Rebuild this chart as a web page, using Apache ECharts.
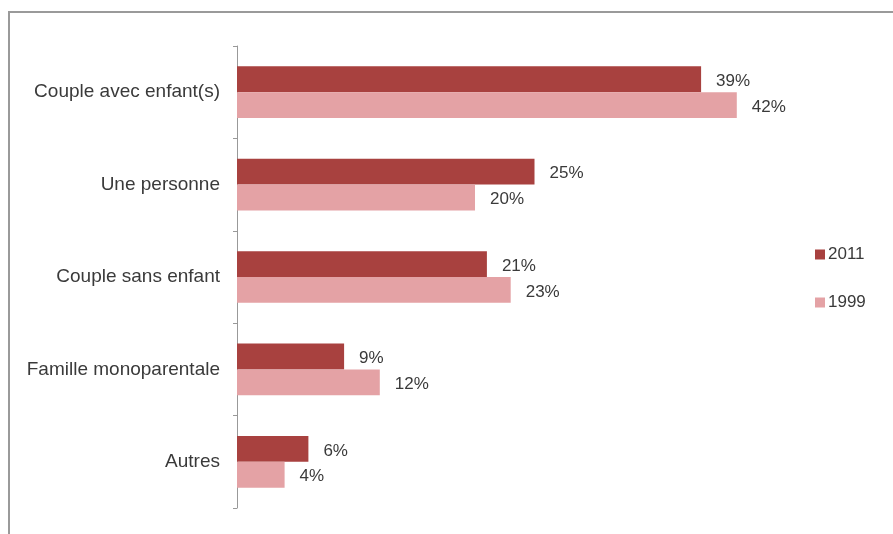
<!DOCTYPE html>
<html><head><meta charset="utf-8">
<script src="https://cdn.jsdelivr.net/npm/echarts@6/dist/echarts.min.js"></script>
<style>html,body{margin:0;padding:0;background:#fff}#c{width:893px;height:534px}</style>
</head><body><div id="c"></div>
<script>
const categories = ["Couple avec enfant(s)", "Une personne", "Couple sans enfant", "Famille monoparentale", "Autres"];
const values2011 = [39, 25, 21, 9, 6];
const values1999 = [42, 20, 23, 12, 4];
const seriesNames = ["2011", "1999"];

const FONT = 'Liberation Sans, Arial, sans-serif';
const chart = echarts.init(document.getElementById('c'), null, {renderer: 'canvas'});
const labelStyle = {show: true, position: 'right', distance: 15, offset: [0, 2], formatter: '{c}%', color: '#3a3a3a', fontFamily: FONT, fontSize: 17};
chart.setOption({
  animation: false,
  backgroundColor: '#fff',
  graphic: [{type: 'rect', shape: {x: 9, y: 12, width: 900, height: 540}, style: {fill: 'none', stroke: '#9a9a9a', lineWidth: 2}, silent: true}],
  grid: {left: 237, top: 46, width: 595, height: 462, containLabel: false},
  legend: {orient: 'vertical', left: 810, top: 241, itemWidth: 10, itemHeight: 10, itemGap: 31, icon: 'rect',
    textStyle: {fontFamily: FONT, fontSize: 17, color: '#3a3a3a', padding: [0, 0, 0, -2]},
    data: seriesNames},
  xAxis: {type: 'value', min: 0, max: 50, show: false},
  yAxis: {type: 'category', data: categories, inverse: true,
    axisLine: {lineStyle: {color: '#999', width: 1}},
    axisTick: {show: true, length: 4, lineStyle: {color: '#999'}},
    axisLabel: {margin: 17, color: '#3a3a3a', fontSize: 19, fontFamily: FONT}},
  series: [
    {name: seriesNames[0], type: 'bar', data: values2011, barGap: '0%', barCategoryGap: '44%', itemStyle: {color: '#a8413f'}, label: labelStyle},
    {name: seriesNames[1], type: 'bar', data: values1999, barGap: '0%', barCategoryGap: '44%', itemStyle: {color: '#e4a2a5'}, label: labelStyle}
  ]
});
</script></body></html>
